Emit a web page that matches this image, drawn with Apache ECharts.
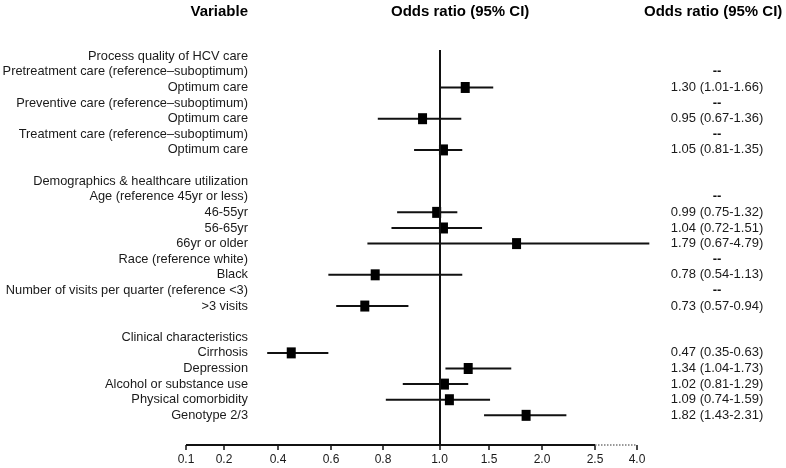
<!DOCTYPE html>
<html>
<head>
<meta charset="utf-8">
<script src="https://cdn.jsdelivr.net/npm/echarts@6/dist/echarts.min.js"></script>
<style>html,body{margin:0;padding:0;background:#fff}#c{width:786px;height:468px}</style>
</head>
<body>
<div id="c"></div>
<script>
// ---- data ----
const rowLabels = [
  'Process quality of HCV care',
  'Pretreatment care (reference\u2013suboptimum)',
  'Optimum care',
  'Preventive care (reference\u2013suboptimum)',
  'Optimum care',
  'Treatment care (reference\u2013suboptimum)',
  'Optimum care',
  '',
  'Demographics & healthcare utilization',
  'Age (reference 45yr or less)',
  '46-55yr',
  '56-65yr',
  '66yr or older',
  'Race (reference white)',
  'Black',
  'Number of visits per quarter (reference <3)',
  '>3 visits',
  '',
  'Clinical characteristics',
  'Cirrhosis',
  'Depression',
  'Alcohol or substance use',
  'Physical comorbidity',
  'Genotype 2/3'
];
const orText = [
  '', '--', '1.30 (1.01-1.66)', '--', '0.95 (0.67-1.36)', '--', '1.05 (0.81-1.35)',
  '', '', '--', '0.99 (0.75-1.32)', '1.04 (0.72-1.51)', '1.79 (0.67-4.79)',
  '--', '0.78 (0.54-1.13)', '--', '0.73 (0.57-0.94)',
  '', '', '0.47 (0.35-0.63)', '1.34 (1.04-1.73)', '1.02 (0.81-1.29)', '1.09 (0.74-1.59)', '1.82 (1.43-2.31)'
];
// rows that carry a plotted estimate (index into rowLabels)
const estRows  = [2, 4, 6, 10, 11, 12, 14, 16, 19, 20, 21, 22, 23];
// values as drawn in the picture
const estimate = [1.26, 0.94, 1.04, 0.99, 1.04, 1.76, 0.77, 0.73, 0.45, 1.29, 1.05, 1.10, 1.85];
const lower    = [1.01, 0.78, 0.91, 0.85, 0.83, 0.74, 0.59, 0.62, 0.36, 1.06, 0.87, 0.81, 1.45];
const upper    = [1.54, 1.22, 1.23, 1.18, 1.43, 4.44, 1.23, 0.89, 0.59, 1.71, 1.29, 1.51, 2.23];
// x axis tick values / labels
const tickValues = [0.1, 0.2, 0.4, 0.6, 0.8, 1.0, 1.5, 2.0, 2.5, 4.0];
const tickLabels = ['0.1', '0.2', '0.4', '0.6', '0.8', '1.0', '1.5', '2.0', '2.5', '4.0'];
// the reference uses a custom (piecewise) scale: axis slot of each tick
const tickSlots = [0, 0.76, 1.84, 2.9, 3.94, 5.07, 6.06, 7.12, 8.18, 9.02];

// ---- scale helper ----
function toSlot(v) {
  const n = tickValues.length;
  let i = 0;
  while (i < n - 2 && v > tickValues[i + 1]) i++;
  const t = (v - tickValues[i]) / (tickValues[i + 1] - tickValues[i]);
  return tickSlots[i] + t * (tickSlots[i + 1] - tickSlots[i]);
}
function slotLabel(s) {
  let best = 0;
  for (let i = 1; i < tickSlots.length; i++) if (Math.abs(tickSlots[i] - s) < Math.abs(tickSlots[best] - s)) best = i;
  return tickLabels[best];
}

const Y_MIN = -0.4, Y_MAX = 24.9;
const FONT = '"Liberation Sans", Arial, Helvetica, sans-serif';
const INK = '#111';

const seriesData = estRows.map((r, i) => [toSlot(lower[i]), toSlot(estimate[i]), toSlot(upper[i]), r]);
const labelRows = rowLabels.map((t, i) => i).filter(i => rowLabels[i] !== '');
const orRows = orText.map((t, i) => i).filter(i => orText[i] !== '');

const chart = echarts.init(document.getElementById('c'), null, {renderer: 'canvas'});
chart.setOption({
  animation: false,
  backgroundColor: '#fff',
  title: [
    {text: 'Variable', right: 538, top: 4, padding: 0,
     textStyle: {fontFamily: FONT, fontSize: 15, fontWeight: 'bold', color: '#000'}},
    {text: 'Odds ratio (95% CI)', left: 391, top: 4, padding: 0,
     textStyle: {fontFamily: FONT, fontSize: 15, fontWeight: 'bold', color: '#000'}},
    {text: 'Odds ratio (95% CI)', left: 644, top: 4, padding: 0,
     textStyle: {fontFamily: FONT, fontSize: 15, fontWeight: 'bold', color: '#000'}}
  ],
  grid: {left: 186, right: 149, top: 50, bottom: 23, containLabel: false, outerBoundsMode: 'none'},
  xAxis: {
    type: 'value', min: 0, max: tickSlots[tickSlots.length - 1], position: 'bottom',
    axisLine: {show: false, onZero: false},
    splitLine: {show: false},
    axisTick: {show: true, customValues: tickSlots, length: 5, inside: false,
               lineStyle: {color: INK, width: 1.5}},
    axisLabel: {customValues: tickSlots, formatter: v => slotLabel(v), margin: 9,
                fontFamily: FONT, fontSize: 12, color: '#1a1a1a'}
  },
  yAxis: [
    {
      type: 'value', inverse: true, min: Y_MIN, max: Y_MAX, position: 'left',
      axisLine: {show: false, onZero: false}, axisTick: {show: false}, splitLine: {show: false},
      axisLabel: {customValues: labelRows, formatter: v => rowLabels[v], margin: -62,
                  align: 'right', fontFamily: FONT, fontSize: 12.8, color: '#1a1a1a'}
    },
    {
      type: 'value', inverse: true, min: Y_MIN, max: Y_MAX, position: 'right',
      axisLine: {show: false, onZero: false}, axisTick: {show: false}, splitLine: {show: false},
      axisLabel: {customValues: orRows,
                  formatter: v => orText[v] === '--' ? '{d|--}' : orText[v],
                  margin: 80, align: 'center', fontFamily: FONT, fontSize: 13, color: '#1a1a1a',
                  rich: {d: {fontFamily: FONT, fontSize: 13, fontWeight: 'bold', color: '#111'}}}
    }
  ],
  series: [{
    type: 'custom',
    clip: false,
    xAxisIndex: 0, yAxisIndex: 0,
    data: seriesData,
    encode: {x: [0, 1, 2], y: 3},
    renderItem: function (params, api) {
      const y = api.value(3);
      const pL = api.coord([api.value(0), y]);
      const pE = api.coord([api.value(1), y]);
      const pH = api.coord([api.value(2), y]);
      return {
        type: 'group',
        children: [
          {type: 'line', shape: {x1: pL[0], y1: pL[1], x2: pH[0], y2: pH[1]},
           style: {stroke: INK, lineWidth: 2}},
          {type: 'rect', shape: {x: pE[0] - 4.5, y: pE[1] - 5.5, width: 9, height: 11},
           style: {fill: '#000'}}
        ]
      };
    },
    markLine: {
      silent: true, symbol: 'none', label: {show: false},
      lineStyle: {color: INK, width: 2, type: 'solid'},
      data: [
        [{coord: [toSlot(1.0), Y_MIN]}, {coord: [toSlot(1.0), Y_MAX]}],
        [{coord: [toSlot(0.1), Y_MAX]}, {coord: [toSlot(2.5), Y_MAX]}],
        [{coord: [toSlot(2.5), Y_MAX], lineStyle: {type: 'dotted', width: 1.5, color: '#777'}},
         {coord: [toSlot(4.0), Y_MAX]}]
      ]
    }
  }]
});
</script>
</body>
</html>
